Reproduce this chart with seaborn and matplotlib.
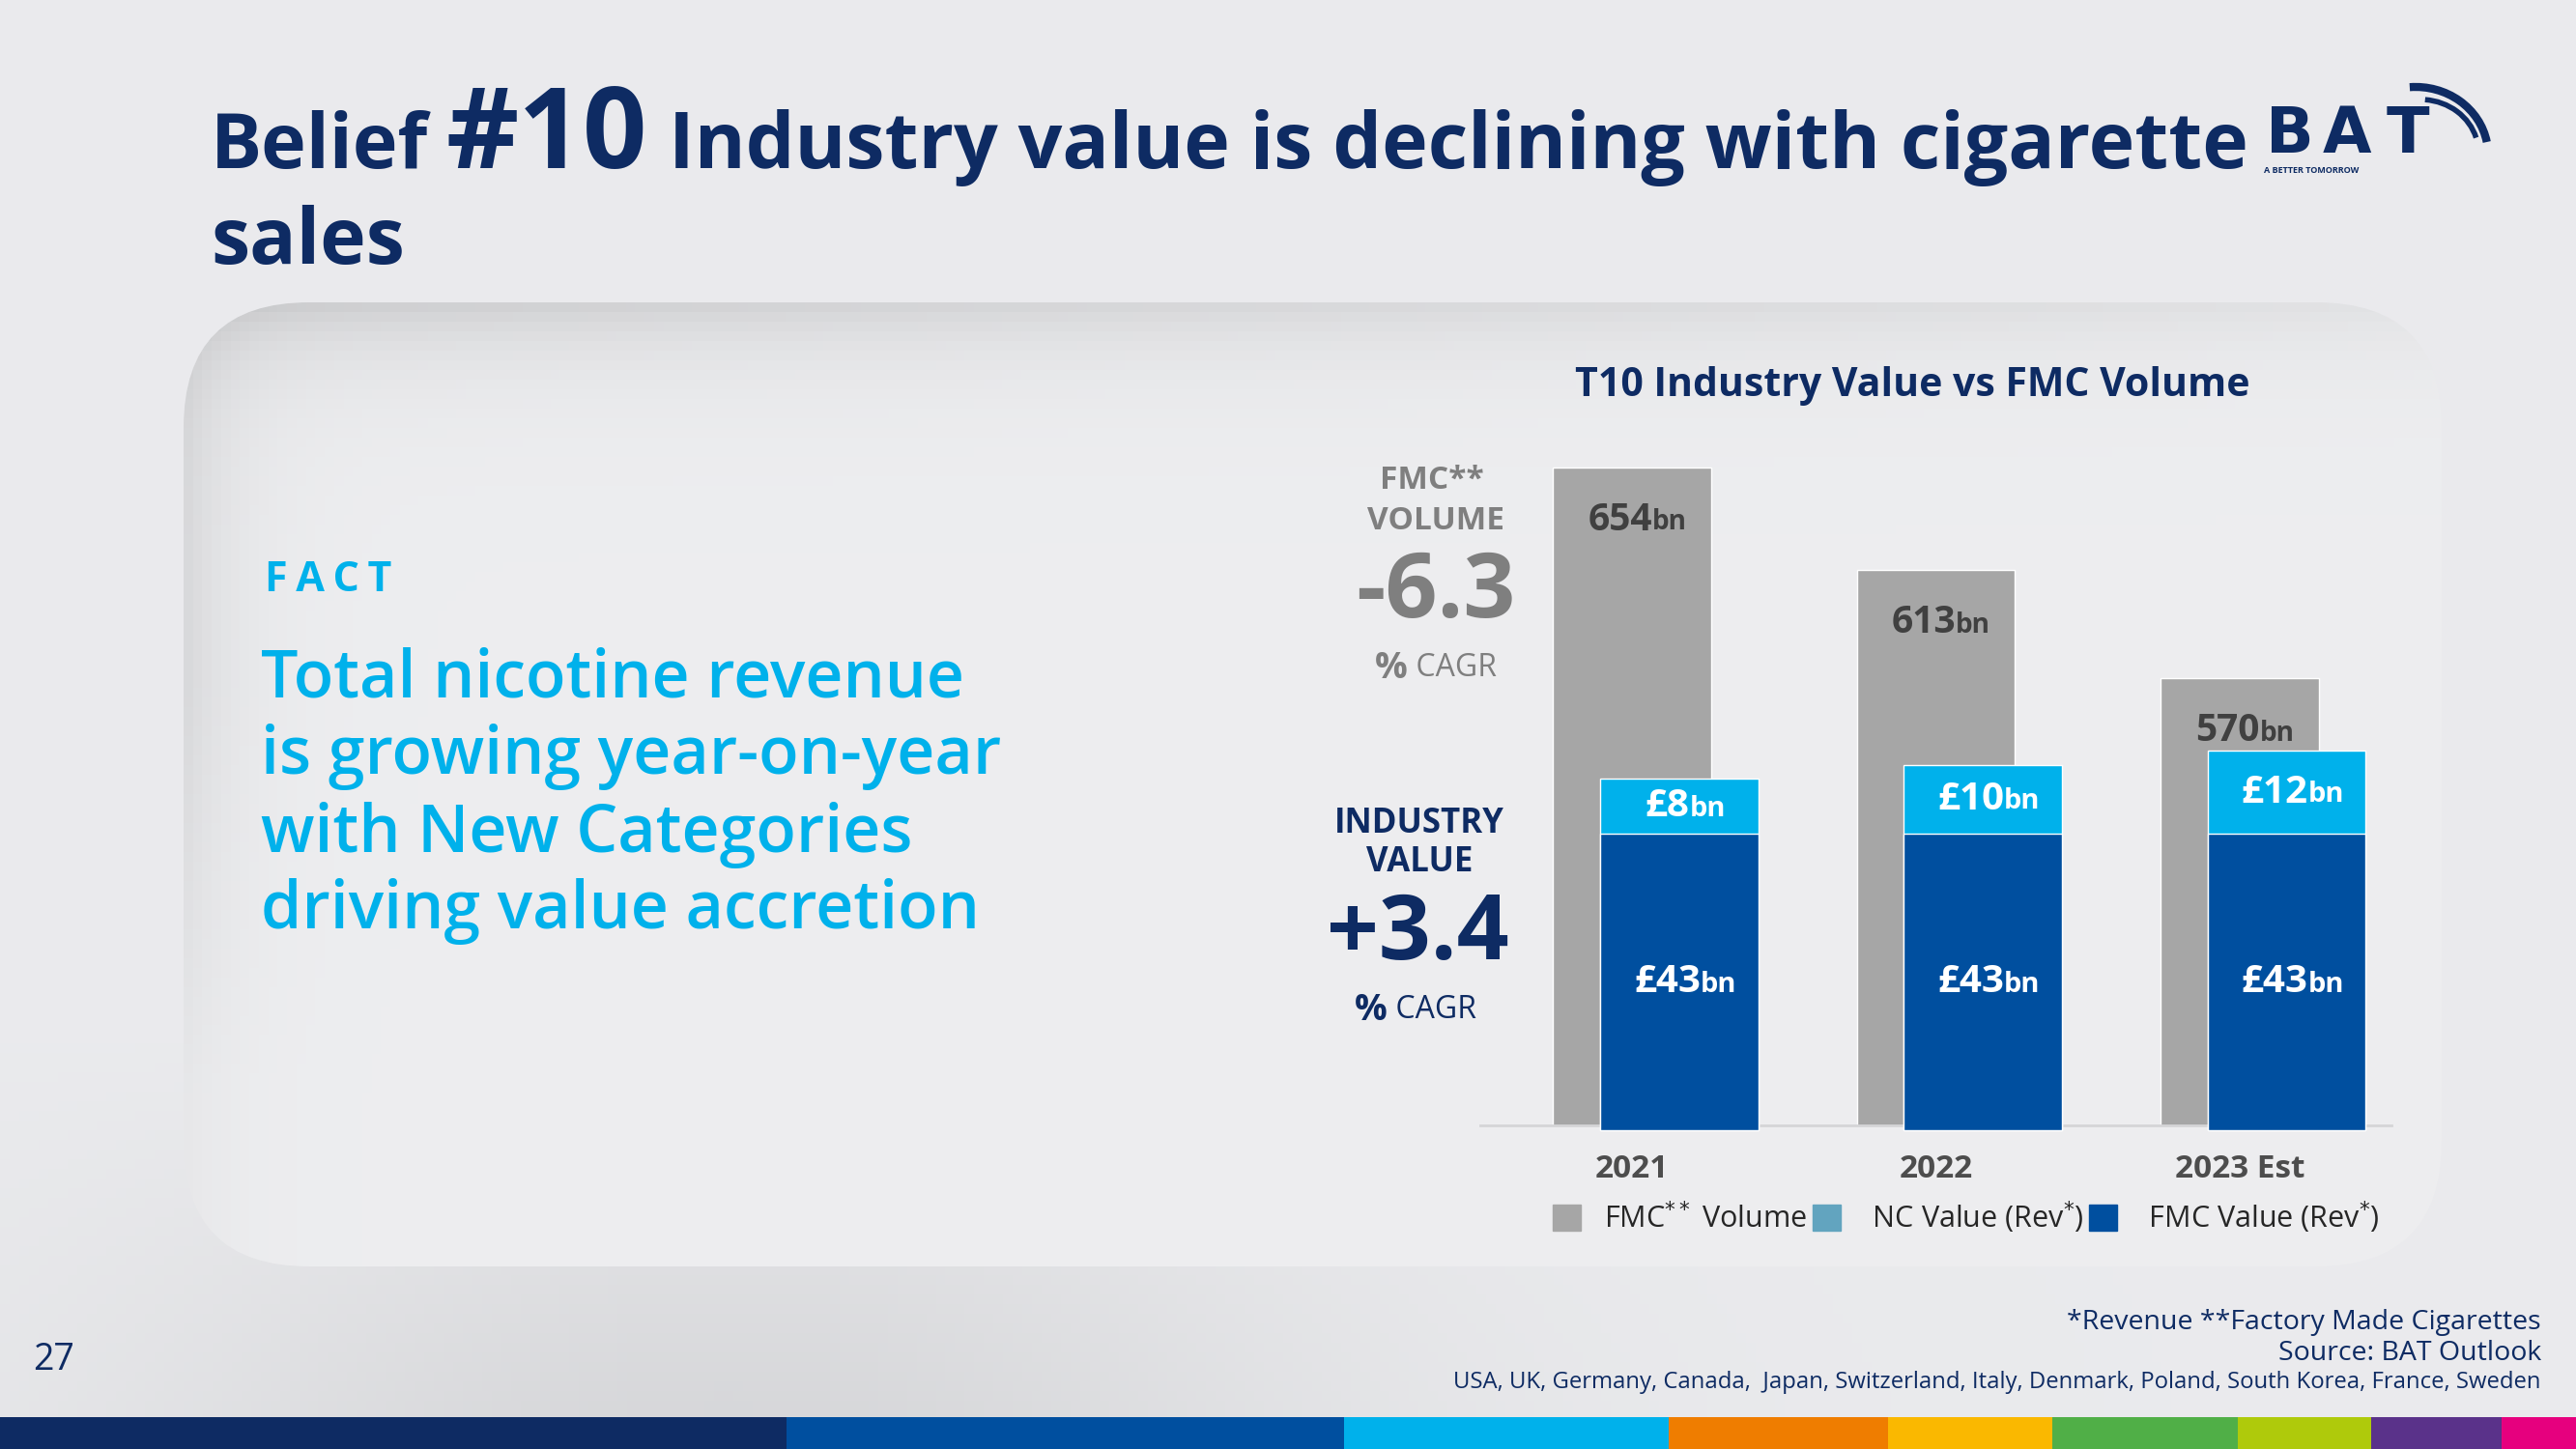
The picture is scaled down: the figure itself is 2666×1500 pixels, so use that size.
import numpy as np
import pandas as pd
import matplotlib.pyplot as plt
import seaborn as sns
from matplotlib.patches import FancyBboxPatch, Rectangle, Patch, Arc

# Values
years = ["2021", "2022", "2023 Est"]
fmc_volume = [654, 613, 570]      # bn sticks
nc_value = [8, 10, 12]            # GBP bn, new categories
fmc_value = [43, 43, 43]          # GBP bn, cigarettes
volume_cagr = "-6.3"
value_cagr = "+3.4"
legend_labels = ["FMC$^{**}$ Volume", " NC Value (Rev$^{*}$)", " FMC Value (Rev$^{*}$)"]
body_lines = ["Total nicotine revenue", "is growing year-on-year",
              "with New Categories", "driving value accretion"]
countries = "USA, UK, Germany, Canada,  Japan, Switzerland, Italy, Denmark, Poland, South Korea, France, Sweden"

df = pd.DataFrame({"year": years, "volume": fmc_volume, "nc": nc_value, "fmc": fmc_value})
df["total"] = df["nc"] + df["fmc"]
df["pos"] = np.arange(len(df)) + 0.155   # blue bars sit a little right of the grey ones

NAVY = "#0e2b63"
CYAN = "#00b1eb"
BLUE = "#004f9f"
GREY = "#a6a6a6"
GREY_TXT = "#7f7f7f"
TEAL = "#62a4bf"

sns.set_style("white")
plt.rcParams["font.family"] = ["Open Sans", "DejaVu Sans"]

fig = plt.figure(figsize=(26.66, 15), dpi=100)

# background axis in pixel coordinates (y down)
bg = fig.add_axes([0, 0, 1, 1])
X, Y = np.meshgrid(np.linspace(0, 2666, 267), np.linspace(0, 1500, 150))
v = 0.918 - 0.075 * np.exp(-((X - 750) / 650) ** 2) * np.clip((Y - 1080) / 380, 0, 1)
bg.imshow(np.dstack([v, v + 0.002, v + 0.012]).clip(0, 1), extent=(0, 2666, 1500, 0), aspect="auto", zorder=0)

panel = FancyBboxPatch((190, 313), 2337, 998, boxstyle="round,pad=0,rounding_size=130",
                       facecolor="none", edgecolor="none", zorder=1)
bg.add_patch(panel)
PX, PY = np.meshgrid(np.linspace(190, 2527, 240), np.linspace(313, 1311, 100))
fade = 1 - 0.65 * (PX - 190) / 2337
pv = (0.93 - 0.12 * np.exp(-(PY - 313) / 50) * fade
      - 0.08 * np.exp(-(PX - 190) / 50) * np.clip((1311 - PY) / 600, 0.3, 1))
im = bg.imshow(np.dstack([pv, pv + 0.002, pv + 0.01]).clip(0, 1), extent=(190, 2527, 1311, 313),
               aspect="auto", zorder=1)
im.set_clip_path(panel)

# bottom colour stripe
stripe = [(0, 814, "#0e2b63"), (814, 1391, "#004f9f"), (1391, 1727, "#00b1eb"),
          (1727, 1954, "#ef7d00"), (1954, 2124, "#fab800"), (2124, 2316, "#50af47"),
          (2316, 2454, "#afca0b"), (2454, 2589, "#5a328a"), (2589, 2666, "#e6007e")]
for x0, x1, c in stripe:
    bg.add_patch(Rectangle((x0, 1467), x1 - x0, 33, facecolor=c, edgecolor="none", zorder=2))

bg.set_xlim(0, 2666)
bg.set_ylim(1500, 0)
bg.axis("off")
renderer = fig.canvas.get_renderer()


def right_edge(t):
    return t.get_window_extent(renderer).x1


# slide title
t1 = bg.text(218, 174, "Belief", fontsize=57, fontweight="bold", color=NAVY, va="baseline")
t2 = bg.text(right_edge(t1) + 18, 174, "#10", fontsize=84, fontweight="bold", color=NAVY, va="baseline")
bg.text(right_edge(t2) + 22, 174, "Industry value is declining with cigarette", fontsize=58,
        fontweight="bold", color=NAVY, va="baseline")
bg.text(218, 273, "sales", fontsize=58, fontweight="bold", color=NAVY, va="baseline")

# BAT logo
for ch, x in zip("BAT", [2370, 2429, 2492]):
    bg.text(x, 172, ch, fontsize=47, fontweight="bold", color=NAVY, ha="center", va="bottom",
            family="DejaVu Sans")
bg.text(2343, 172, "A BETTER TOMORROW", fontsize=6.5, fontweight="bold", color=NAVY, va="top")
bg.add_patch(Arc((2500, 160), 150, 140, theta1=-95, theta2=-10, lw=6, color=NAVY))
bg.add_patch(Arc((2505, 158), 120, 110, theta1=-85, theta2=-15, lw=4, color=NAVY))

# left fact text
bg.text(274, 612, "\u2009".join("FACT"), fontsize=31, fontweight="bold", color=CYAN, va="baseline")
for line, yb in zip(body_lines, [722, 801, 882, 961]):
    bg.text(270, yb, line, fontsize=49, fontweight="semibold", color=CYAN, va="baseline")

# chart title and CAGR call-outs
bg.text(1979, 410, "T10 Industry Value vs FMC Volume", fontsize=29.5, fontweight="bold",
        color=NAVY, ha="center", va="baseline")
bg.text(1482, 498, "FMC**", fontsize=24, fontweight="bold", color=GREY_TXT, ha="center", va="center")
bg.text(1486, 539, "VOLUME", fontsize=24, fontweight="bold", color=GREY_TXT, ha="center", va="center")
bg.text(1486, 615, volume_cagr, fontsize=68, fontweight="bold", color=GREY_TXT, ha="center", va="center")
c1 = bg.text(1440, 692, "%", fontsize=27, fontweight="bold", color=GREY_TXT, ha="center", va="center")
bg.annotate(" CAGR", xy=(1, 0.5), xycoords=c1, fontsize=23, color=GREY_TXT, ha="left", va="center")
bg.text(1469, 853, "INDUSTRY", fontsize=25, fontweight="bold", color=NAVY, ha="center", va="center")
bg.text(1469, 893, "VALUE", fontsize=25, fontweight="bold", color=NAVY, ha="center", va="center")
bg.text(1467, 968, value_cagr, fontsize=68, fontweight="bold", color=NAVY, ha="center", va="center")
c2 = bg.text(1419, 1046, "%", fontsize=27, fontweight="bold", color=NAVY, ha="center", va="center")
bg.annotate(" CAGR", xy=(1, 0.5), xycoords=c2, fontsize=23, color=NAVY, ha="left", va="center")

# footnotes
bg.text(2630, 1369, "*Revenue **Factory Made Cigarettes", fontsize=20.5, color=NAVY, ha="right", va="center")
bg.text(2630, 1401, "Source: BAT Outlook", fontsize=20.5, color=NAVY, ha="right", va="center")
bg.text(2630, 1431, countries, fontsize=17.2, color=NAVY, ha="right", va="center")
bg.text(34, 1408, "27", fontsize=27, color=NAVY, va="center")

# chart: grey FMC volume bars on a truncated scale
rect = [1532 / 2666, 335 / 1500, 943 / 2666, 684 / 1500]
ax = fig.add_axes(rect)
ax.patch.set_alpha(0)
sns.barplot(data=df, x="year", y="volume", color=GREY, saturation=1, width=0.52,
            errorbar=None, ax=ax)
ax.set_xlim(-0.5, 2.5)
ax.set_ylim(392, 655)
ax.set_yticks([])
ax.set_xlabel("")
ax.set_ylabel("")
for s in ["left", "top", "right"]:
    ax.spines[s].set_visible(False)
ax.spines["bottom"].set_color("#d5d5d7")
ax.spines["bottom"].set_linewidth(2)
ax.tick_params(axis="x", length=0, pad=21, labelsize=24, labelcolor="#4d4d4d")
for lab in ax.get_xticklabels():
    lab.set_fontweight("bold")

# stacked value bars (NC on top of FMC) on their own scale
ax2 = fig.add_axes(rect)
ax2.patch.set_alpha(0)
sns.barplot(data=df, x="pos", y="total", native_scale=True, color=CYAN, saturation=1,
            width=0.52, errorbar=None, ax=ax2)
sns.barplot(data=df, x="pos", y="fmc", native_scale=True, color=BLUE, saturation=1,
            width=0.52, errorbar=None, ax=ax2)
ax2.set_xlim(-0.5, 2.5)
ax2.set_ylim(0.7, 96.5)
ax2.axis("off")
for p in ax2.patches:
    p.set_clip_on(False)


def bn_label(axis, x, y, num, color, size):
    t = axis.text(x - 0.04, y, num, ha="center", va="center", fontsize=size,
                  fontweight="bold", color=color)
    axis.annotate("bn", xy=(1, 0.06), xycoords=t, ha="left", va="bottom",
                  fontsize=size * 0.72, fontweight="bold", color=color)


for i, r in df.iterrows():
    bn_label(ax, i, r["volume"] - 21, str(r["volume"]), "#404040", 28)
    bn_label(ax2, r["pos"], r["fmc"] + r["nc"] / 2, f"\u00a3{r['nc']}", "white", 29)
    bn_label(ax2, r["pos"], r["fmc"] / 2, f"\u00a3{r['fmc']}", "white", 29)

handles = [Patch(color=GREY), Patch(color=TEAL), Patch(color=BLUE)]
fig.legend(handles, legend_labels, loc="center left", bbox_to_anchor=(1607 / 2666, 1 - 1260 / 1500),
           ncol=3, frameon=False, fontsize=22, handlelength=0.95, handleheight=0.95,
           handletextpad=0.8, columnspacing=0.2, borderpad=0, borderaxespad=0, labelcolor="#262626")

fig.savefig("out.png", dpi=100)
